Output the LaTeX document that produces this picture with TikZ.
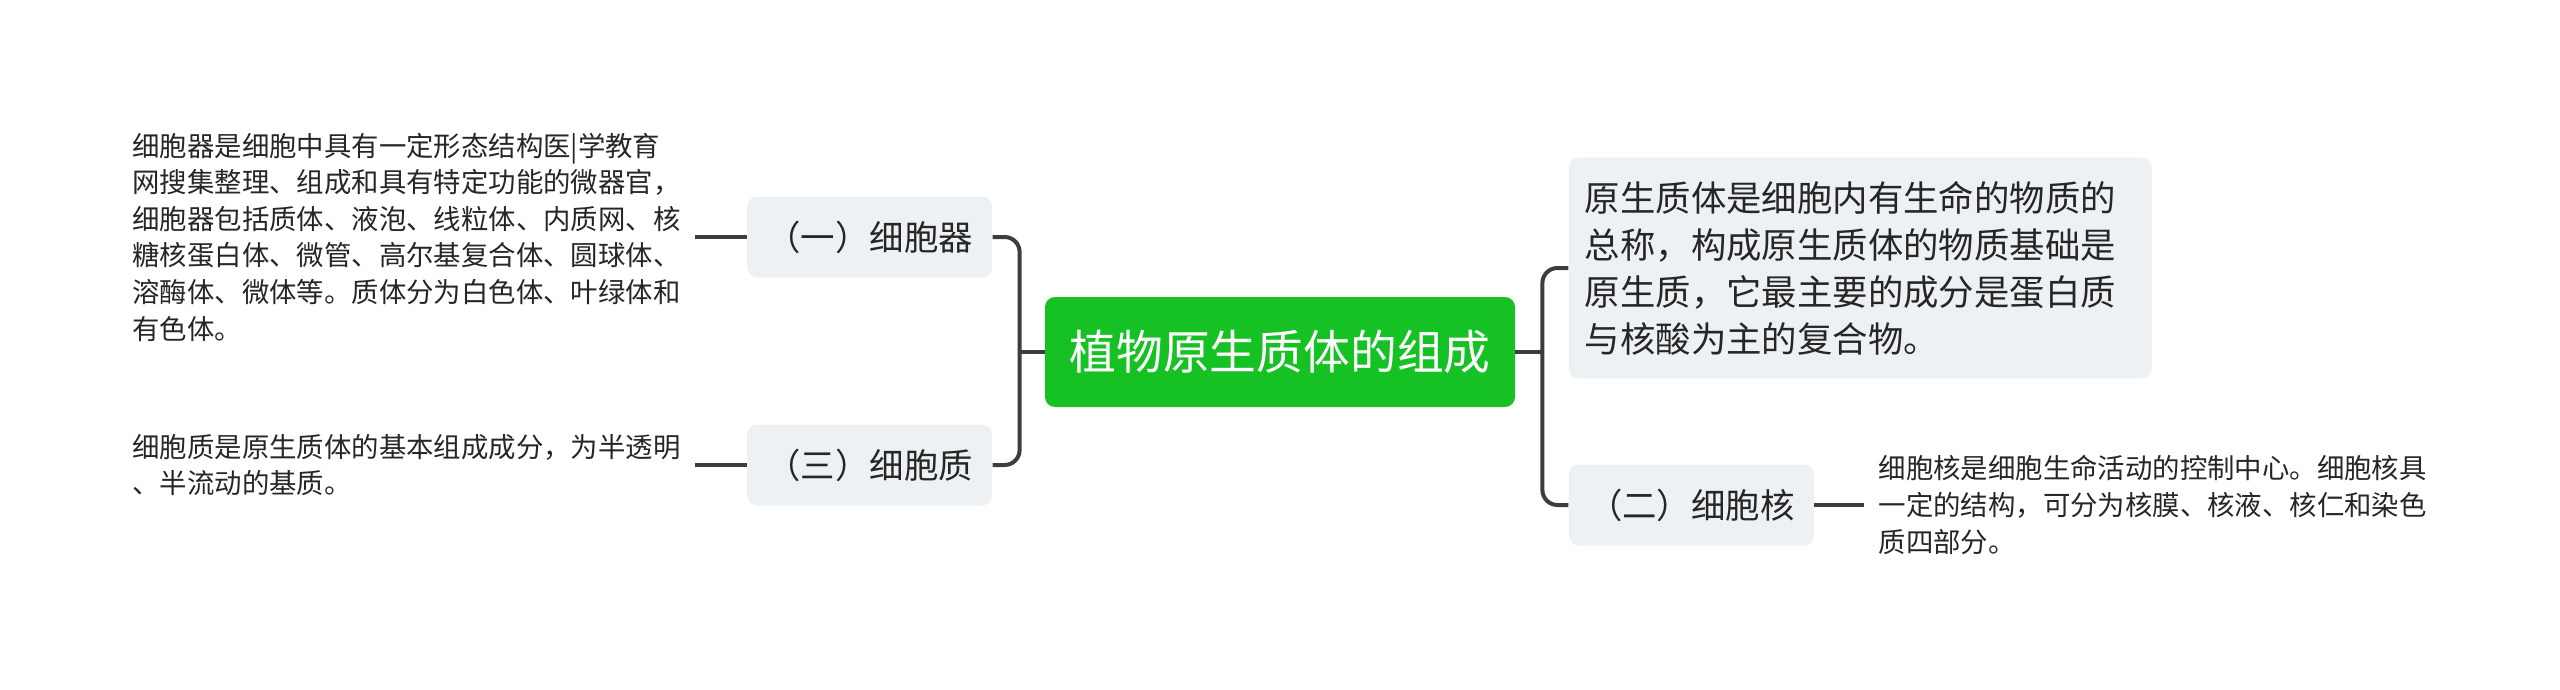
\documentclass[tikz,border=0pt]{standalone}
\usepackage{fontspec}
\setmainfont{Noto Sans CJK SC}
\usepackage{xcolor}
\usepackage{tikz}
\usetikzlibrary{positioning}

\definecolor{rootgreen}{HTML}{15C123}
\definecolor{boxgray}{HTML}{EEF1F4}
\definecolor{linegray}{HTML}{3D3D3D}
\definecolor{textdark}{HTML}{262626}

\begin{document}
\begin{tikzpicture}[
		x=0.5pt, y=-0.5pt,
		node distance=26pt,
		every node/.style={text=textdark},
		root/.style={
				fill=rootgreen,
				rectangle,
				rounded corners=5pt,
				minimum width=235pt,
				minimum height=55pt,
				text=white,
				font=\fontsize{23.4}{28}\selectfont
			},
		topic/.style={
				fill=boxgray,
				rectangle,
				rounded corners=5pt,
				minimum width=122.5pt,
				minimum height=40.5pt,
				font=\fontsize{17.2}{20}\selectfont
			},
		note/.style={
				align=left,
				inner xsep=7pt,
				inner ysep=0pt,
				font=\fontsize{13.7}{18.3}\selectfont
			},
		link/.style={draw=linegray, line width=2pt},
		branch/.style={link, rounded corners=7.5pt}
	]
	\useasboundingbox (0,0) rectangle (2560,690);

	% Central topic
	\node[root] (root) at (1280,352) {植物原生质体的组成};

	% Main branches
	\node[topic, left=of root, yshift=57.5pt] (lb1) {（一）细胞器};
	\node[topic, left=of root, yshift=-56.5pt] (lb2) {（三）细胞质};
	\node[topic, align=left, right=26.5pt of root, yshift=42pt,
		text width=275.5pt, minimum height=110.5pt, inner xsep=8pt,
		font=\fontsize{17.7}{23.5}\selectfont] (rb1) {
		原生质体是细胞内有生命的物质的\\
		总称，构成原生质体的物质基础是\\
		原生质，它最主要的成分是蛋白质\\
		与核酸为主的复合物。
	};
	\node[topic, right=26.5pt of root, yshift=-76.5pt] (rb2) {（二）细胞核};

	% Notes
	\node[note, left=of lb1] (ll1) {
		细胞器是细胞中具有一定形态结构医|学教育\\
		网搜集整理、组成和具有特定功能的微器官，\\
		细胞器包括质体、液泡、线粒体、内质网、核\\
		糖核蛋白体、微管、高尔基复合体、圆球体、\\
		溶酶体、微体等。质体分为白色体、叶绿体和\\
		有色体。
	};
	\node[note, left=of lb2] (ll2) {
		细胞质是原生质体的基本组成成分，为半透明\\
		、半流动的基质。
	};
	\node[note, right=25pt of rb2] (rl2) {
		细胞核是细胞生命活动的控制中心。细胞核具\\
		一定的结构，可分为核膜、核液、核仁和染色\\
		质四部分。
	};

	% Trunks
	\coordinate (ltrunk) at ([xshift=-12.5pt]root.west);
	\coordinate (rtrunk) at ([xshift=13.5pt]root.east);
	\draw[link] (root.west) -- (ltrunk);
	\draw[link] (root.east) -- (rtrunk);
	\foreach \dst in {lb1, lb2} {
			\draw[branch] (ltrunk) |- (\dst.east);
		}
	\foreach \dst in {rb1, rb2} {
			\draw[branch] (rtrunk) |- (\dst.west);
		}

	% Note connectors
	\foreach \src/\dst in {lb1/ll1, lb2/ll2, rb2/rl2} {
			\draw[link] (\src) -- (\dst);
		}
\end{tikzpicture}
\end{document}
